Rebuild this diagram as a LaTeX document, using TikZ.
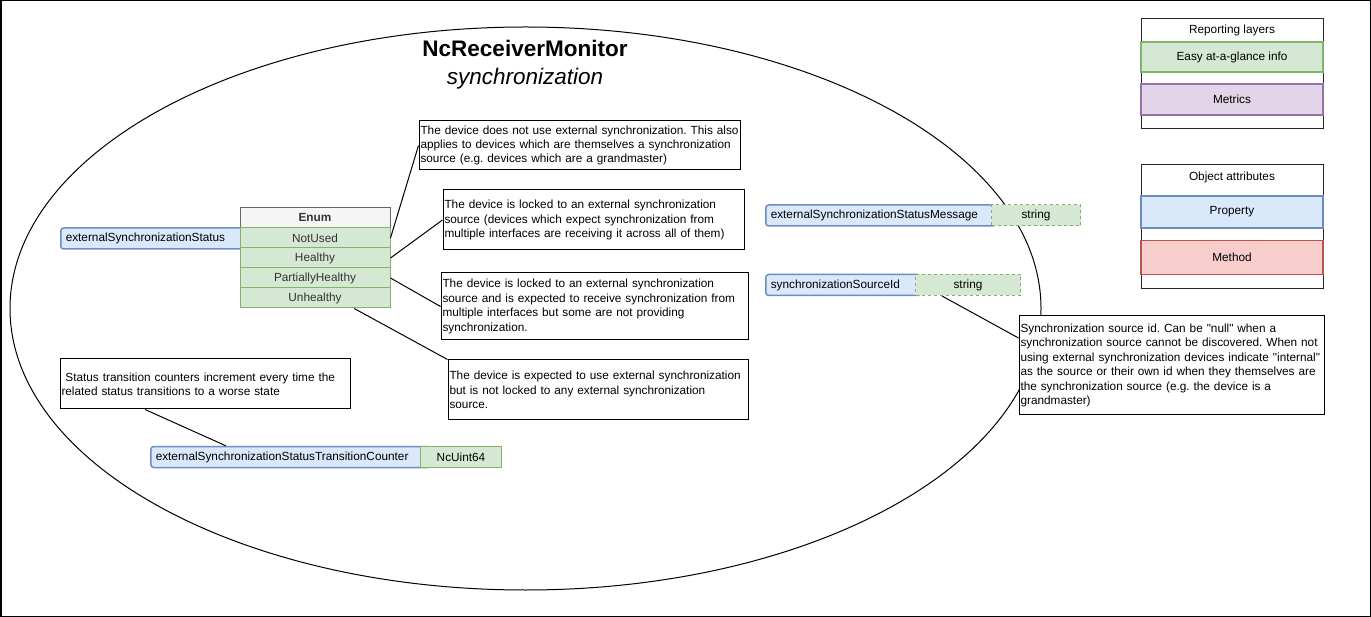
\documentclass[tikz,border=0pt]{standalone}
\usepackage{fontspec}
\setmainfont{Liberation Sans}[Ligatures=TeXOff]
\usepackage{xcolor}
\usepackage{tikz}

\definecolor{propfill}{HTML}{DAE8FC}
\definecolor{propline}{HTML}{6C8EBF}
\definecolor{typefill}{HTML}{D5E8D4}
\definecolor{typeline}{HTML}{82B366}
\definecolor{metricfill}{HTML}{E1D5E7}
\definecolor{metricline}{HTML}{9673A6}
\definecolor{methodfill}{HTML}{F8CECC}
\definecolor{methodline}{HTML}{B85450}
\definecolor{headfill}{HTML}{F5F5F5}
\definecolor{headline}{HTML}{666666}

\frenchspacing
\hyphenpenalty=10000
\newcommand{\descfont}{\fontsize{11.8pt}{14.4pt}\selectfont}

\tikzset{
	prop/.style={draw=propline, fill=propfill, line width=1.5pt, rounded corners=3pt, inner xsep=5pt, inner ysep=0pt, align=left, anchor=west, minimum height=21pt},
	typebox/.style={draw=typeline, fill=typefill, line width=1pt, inner sep=0pt, anchor=west, minimum height=21pt},
	enumrow/.style={draw=typeline, fill=typefill, line width=1pt, inner sep=0pt, minimum width=150pt, minimum height=20pt, text=black!80},
	note/.style={draw=black, fill=white, line width=1pt, inner xsep=1.5pt, inner ysep=2pt, align=left},
	legendrow/.style={line width=1.5pt, minimum width=182pt, inner sep=0pt},
	legendframe/.style={draw=black!85, line width=1pt, minimum width=182pt, anchor=north west},
}

\begin{document}
\begin{tikzpicture}[x=1pt, y=-1pt, font=\descfont]
	\useasboundingbox (0,0) rectangle (1371,617);
	\draw[line width=1.5pt] (0.75,0.75) rectangle (1370.25,616.25);

	% \draw monitor ellipse
	\draw[line width=1pt] (525.5,308.5) ellipse [x radius=515.5pt, y radius=281.5pt];

	\node[anchor=base, font=\fontsize{22.5pt}{28pt}\selectfont\bfseries] (title) at (525,56.5) {NcReceiverMonitor};
	\node[anchor=base, font=\fontsize{22.5pt}{28pt}\selectfont\itshape] (subtitle) at (525,85) {synchronization};

	% \draw status property and enum
	\node[prop, text width=180pt] (statusProp) at (60,238.5) {externalSynchronizationStatus};
	\node[enumrow, draw=headline, fill=headfill, font=\descfont\bfseries] (enumHead) at (315,218) {Enum};
	\foreach \val [count=\i from 0] in {NotUsed,Healthy,PartiallyHealthy,Unhealthy} {
	  \node[enumrow] (\val) at (315,{238+20*\i}) {\val};
	}

	% \draw enum descriptions
	\node[note, text width=318pt, minimum height=49pt] (descNotUsed) at (579.5,145.5)
	  {\mbox{The device does not use external synchronization. This also}\\
	   applies to devices which are themselves a synchronization\\
	   source (e.g. devices which are a grandmaster)};
	\node[note, text width=298pt, minimum height=60pt] (descHealthy) at (593.5,220)
	  {The device is locked to an external synchronization\\
	   source (devices which expect synchronization from\\
	   multiple interfaces are receiving it across all of them)};
	\node[note, text width=304pt, minimum height=67pt] (descPartial) at (594.5,306.5)
	  {The device is locked to an external synchronization\\
	   source and is expected to receive synchronization from\\
	   multiple interfaces but some are not providing\\
	   synchronization.};
	\node[note, text width=297pt, minimum height=60pt] (descUnhealthy) at (598,390)
	  {The device is expected to use external synchronization\\
	   but is not locked to any external synchronization\\
	   source.};

	\draw[line width=1pt] (NotUsed.east) -- (descNotUsed.west);
	\draw[line width=1pt] (Healthy.east) -- (descHealthy.west);
	\draw[line width=1pt] (PartiallyHealthy.east) -- (descPartial.west);
	\draw[line width=1pt] (Unhealthy.-15) -- (descUnhealthy.north west);

	% \draw transition counter
	\node[note, text width=287pt, minimum height=50pt] (counterNote) at (205,384)
	  {\ Status transition counters increment every time the\\
	   related status transitions to a worse state};
	\node[prop, text width=270pt] (counterProp) at (150,457) {externalSynchronizationStatusTransitionCounter};
	\node[typebox, minimum width=81pt] (counterType) at (420,457) {NcUint64};
	\draw[line width=1pt] ([xshift=-60pt]counterNote.south) -- ([xshift=-65pt]counterProp.north);

	% \draw message and source id
	\node[prop, text width=220pt] (messageProp) at (765,215.5) {externalSynchronizationStatusMessage};
	\node[typebox, dash pattern=on 3pt off 3pt, minimum width=89pt] (messageType) at (991,215.5) {string};
	\node[prop, text width=145pt] (sourceIdProp) at (765,285) {synchronizationSourceId};
	\node[typebox, dash pattern=on 3pt off 3pt, minimum width=105pt] (sourceIdType) at (915,285) {string};

	\node[note, text width=302pt, minimum height=99pt] (sourceIdNote) at (1171.5,365.5)
	  {Synchronization source id. Can be "null" when a\\
	   synchronization source cannot be discovered. When not\\
	   using external synchronization devices indicate "internal"\\
	   as the source or their own id when they themselves are\\
	   the synchronization source (e.g. the device is a\\
	   grandmaster)};
	\draw[line width=1pt] ([xshift=-26pt]sourceIdType.south) -- ([yshift=27.5pt]sourceIdNote.west);

	% \draw legends
	\node[legendframe, minimum height=110pt] (layersFrame) at (1141,18) {};
	\node (layersTitle) at (1232,30.5) {Reporting layers};
	\node[legendrow, draw=typeline, fill=typefill, minimum height=30pt] (glanceRow) at (1232,57.2) {Easy at-a-glance info};
	\node[legendrow, draw=metricline, fill=metricfill, minimum height=31pt] (metricsRow) at (1232,99.5) {Metrics};

	\node[legendframe, minimum height=124pt] (attrFrame) at (1141,164) {};
	\node (attrTitle) at (1232,177.5) {Object attributes};
	\node[legendrow, draw=propline, fill=propfill, minimum height=32pt] (propertyRow) at (1232,212) {Property};
	\node[legendrow, draw=methodline, fill=methodfill, minimum height=34pt] (methodRow) at (1232,257.5) {Method};
\end{tikzpicture}
\end{document}
